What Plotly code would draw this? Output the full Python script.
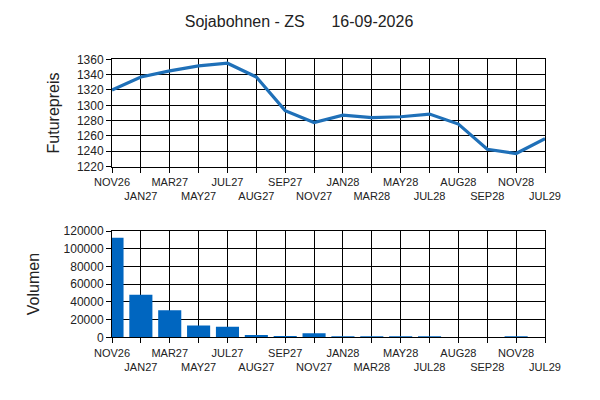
import plotly.graph_objects as go
from plotly.subplots import make_subplots

# contract months (x axis)
months = ['NOV26', 'JAN27', 'MAR27', 'MAY27', 'JUL27', 'AUG27', 'SEP27', 'NOV27',
          'JAN28', 'MAR28', 'MAY28', 'JUL28', 'AUG28', 'SEP28', 'NOV28', 'JUL29']

# futures price per contract
prices = [1320, 1337, 1345, 1351.5, 1355, 1337, 1293, 1277.5,
          1287, 1284, 1285, 1288.5, 1275.5, 1242.5, 1237, 1256.5]

# traded volume per contract
volumes = [112500, 48000, 30500, 13300, 12000, 2500, 1400, 4600,
           1000, 1000, 1000, 1000, 0, 0, 800, 0]

title_text = 'Sojabohnen - ZS\u00a0\u00a0\u00a0\u00a0\u00a0\u00a016-09-2026'

# alternate tick labels on two rows
tick_text = [m if i % 2 == 0 else '<br>' + m for i, m in enumerate(months)]

# page body adds an 8px offset, so layout positions are shifted back by 8px
off = 8
H = 400

fig = make_subplots(rows=2, cols=1)

fig.add_trace(go.Scatter(x=months, y=prices, mode='lines',
                         line=dict(color='#1F70B8', width=3.2),
                         showlegend=False), row=1, col=1)

fig.add_trace(go.Bar(x=months, y=volumes, marker_color='#0066C0',
                     marker_line_width=0, width=0.8,
                     showlegend=False), row=2, col=1)

axis_style = dict(showline=True, linecolor='black', linewidth=1, mirror=True,
                  showgrid=True, gridcolor='black', gridwidth=1,
                  ticks='outside', ticklen=5, tickcolor='black', zeroline=False)

for r in (1, 2):
    fig.update_xaxes(type='category', categoryorder='array', categoryarray=months,
                     tickvals=months, ticktext=tick_text, range=[0, len(months) - 1],
                     tickfont=dict(size=11, color='#222'), tickangle=0,
                     row=r, col=1, **axis_style)

fig.update_yaxes(range=[1220, 1360], dtick=20, tickfont=dict(size=12, color='#222'),
                 row=1, col=1, **axis_style)
fig.update_yaxes(range=[0, 120000], dtick=20000, tickformat='d',
                 tickfont=dict(size=12, color='#222'), row=2, col=1, **axis_style)

fig.update_layout(
    width=600, height=H,
    margin=dict(l=112 - off, r=600 - 545 + off, t=0, b=0),
    plot_bgcolor='white', paper_bgcolor='white',
    font=dict(family='Liberation Sans, Arial, sans-serif', color='#222'),
    title=dict(text=title_text, x=(299 - off) / 600, xref='container',
               y=1 - (21 - off) / H, yref='container', yanchor='middle',
               xanchor='center', font=dict(size=16, color='#222')),
    xaxis=dict(domain=[0, 1]), xaxis2=dict(domain=[0, 1]),
    yaxis=dict(domain=[1 - (165 - off) / H, 1 - (54 - off) / H]),
    yaxis2=dict(domain=[1 - (342 - off) / H, 1 - (232 - off) / H]),
    bargap=0.2,
)

fig.add_annotation(text='Futurepreis', textangle=-90, xref='paper', yref='paper',
                   x=(53 - 112) / 433, y=1 - (110 - off) / H, showarrow=False,
                   xanchor='center', yanchor='middle',
                   font=dict(size=16, color='#222'))
fig.add_annotation(text='Volumen', textangle=-90, xref='paper', yref='paper',
                   x=(33 - 112) / 433, y=1 - (287 - off) / H, showarrow=False,
                   xanchor='center', yanchor='middle',
                   font=dict(size=16, color='#222'))

fig.write_html('out.html')
